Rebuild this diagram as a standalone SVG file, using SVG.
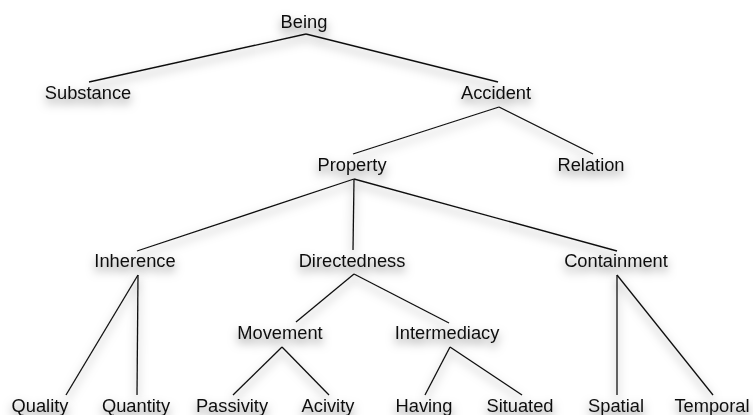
<svg xmlns="http://www.w3.org/2000/svg" width="753" height="415" viewBox="0 0 753 415">
  <defs>
    <filter id="shadow" x="-40%" y="-60%" width="180%" height="240%">
      <feDropShadow dx="0" dy="5" stdDeviation="5" flood-color="#000" flood-opacity="0.5"/>
    </filter>
  </defs>
  <style>
    .label { font-family: "Liberation Sans", Arial, Helvetica, sans-serif; font-size: 18.3px; fill: #111; text-anchor: middle; }
    .node { filter: url(#shadow); }
    .edges line { stroke: #111; stroke-width: 1.3; fill: none; }
    .edges { filter: url(#shadow); }
  </style>
  <rect width="753" height="415" fill="#fff"/>

  <g id="connectors" class="edges">
    <line x1="306" y1="34" x2="89" y2="82"/>
    <line x1="306" y1="34" x2="498" y2="82"/>
    <line x1="499" y1="107" x2="353" y2="154"/>
    <line x1="499" y1="107" x2="593" y2="154"/>
    <line x1="354" y1="179" x2="137" y2="251"/>
    <line x1="354" y1="179" x2="353" y2="250"/>
    <line x1="354" y1="179" x2="617" y2="251"/>
    <line x1="138" y1="275" x2="66" y2="395"/>
    <line x1="138" y1="275" x2="137" y2="395"/>
    <line x1="354" y1="274" x2="296" y2="322"/>
    <line x1="354" y1="274" x2="449" y2="323"/>
    <line x1="617" y1="275" x2="617" y2="395"/>
    <line x1="617" y1="275" x2="713" y2="395"/>
    <line x1="282" y1="347" x2="233" y2="395"/>
    <line x1="282" y1="347" x2="329" y2="395"/>
    <line x1="450" y1="347" x2="425" y2="395"/>
    <line x1="450" y1="347" x2="522" y2="395"/>
  </g>

  <g id="being" class="node"><text class="label" x="304" y="28">Being</text></g>
  <g id="substance" class="node"><text class="label" x="88" y="99">Substance</text></g>
  <g id="accident" class="node"><text class="label" x="496" y="99">Accident</text></g>
  <g id="property" class="node"><text class="label" x="352" y="171">Property</text></g>
  <g id="relation" class="node"><text class="label" x="591" y="171">Relation</text></g>
  <g id="inherence" class="node"><text class="label" x="135" y="267">Inherence</text></g>
  <g id="directedness" class="node"><text class="label" x="352" y="267">Directedness</text></g>
  <g id="containment" class="node"><text class="label" x="616" y="267">Containment</text></g>
  <g id="movement" class="node"><text class="label" x="280" y="339">Movement</text></g>
  <g id="intermediacy" class="node"><text class="label" x="447" y="339">Intermediacy</text></g>
  <g id="quality" class="node"><text class="label" x="40" y="412">Quality</text></g>
  <g id="quantity" class="node"><text class="label" x="136" y="412">Quantity</text></g>
  <g id="passivity" class="node"><text class="label" x="232" y="412">Passivity</text></g>
  <g id="acivity" class="node"><text class="label" x="328" y="412">Acivity</text></g>
  <g id="having" class="node"><text class="label" x="424" y="412">Having</text></g>
  <g id="situated" class="node"><text class="label" x="520" y="412">Situated</text></g>
  <g id="spatial" class="node"><text class="label" x="616" y="412">Spatial</text></g>
  <g id="temporal" class="node"><text class="label" x="712" y="412">Temporal</text></g>
</svg>
